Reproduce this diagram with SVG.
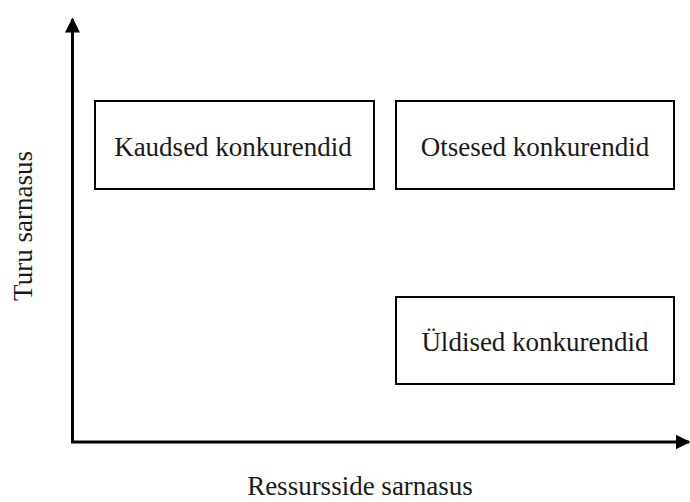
<svg xmlns="http://www.w3.org/2000/svg" width="690" height="502" viewBox="0 0 690 502">
  <style>
    .box { fill: #ffffff; stroke: #000000; stroke-width: 2; }
    .label { font-family: "Liberation Serif", "Times New Roman", serif; font-size: 27px; fill: #1a1a1a; text-anchor: middle; }
    .axis { stroke: #000000; stroke-width: 3; fill: none; }
  </style>
  <defs>
    <marker id="arrowhead" viewBox="0 0 10 10" refX="9" refY="5" markerWidth="5" markerHeight="5" orient="auto" markerUnits="strokeWidth">
      <path d="M0,0 L10,5 L0,10 Z" fill="#000000"/>
    </marker>
  </defs>
  <rect width="690" height="502" fill="#ffffff"/>

  <!-- axes -->
  <g id="connectors">
    <line class="axis" x1="72.5" y1="443" x2="72.5" y2="19" marker-end="url(#arrowhead)"/>
    <line class="axis" x1="71" y1="442" x2="689" y2="442" marker-end="url(#arrowhead)"/>
  </g>

  <g id="node-kaudsed">
    <rect class="box" x="95" y="101" width="279" height="88"/>
    <text class="label" x="233" y="156">Kaudsed konkurendid</text>
  </g>
  <g id="node-otsesed">
    <rect class="box" x="396" y="101" width="278" height="88"/>
    <text class="label" x="535" y="156">Otsesed konkurendid</text>
  </g>
  <g id="node-yldised">
    <rect class="box" x="396" y="297" width="278" height="87"/>
    <text class="label" x="535" y="351">Üldised konkurendid</text>
  </g>

  <!-- axis titles -->
  <text class="label" x="360" y="495">Ressursside sarnasus</text>
  <text class="label" transform="translate(32,226) rotate(-90)" x="0" y="0">Turu sarnasus</text>
</svg>
